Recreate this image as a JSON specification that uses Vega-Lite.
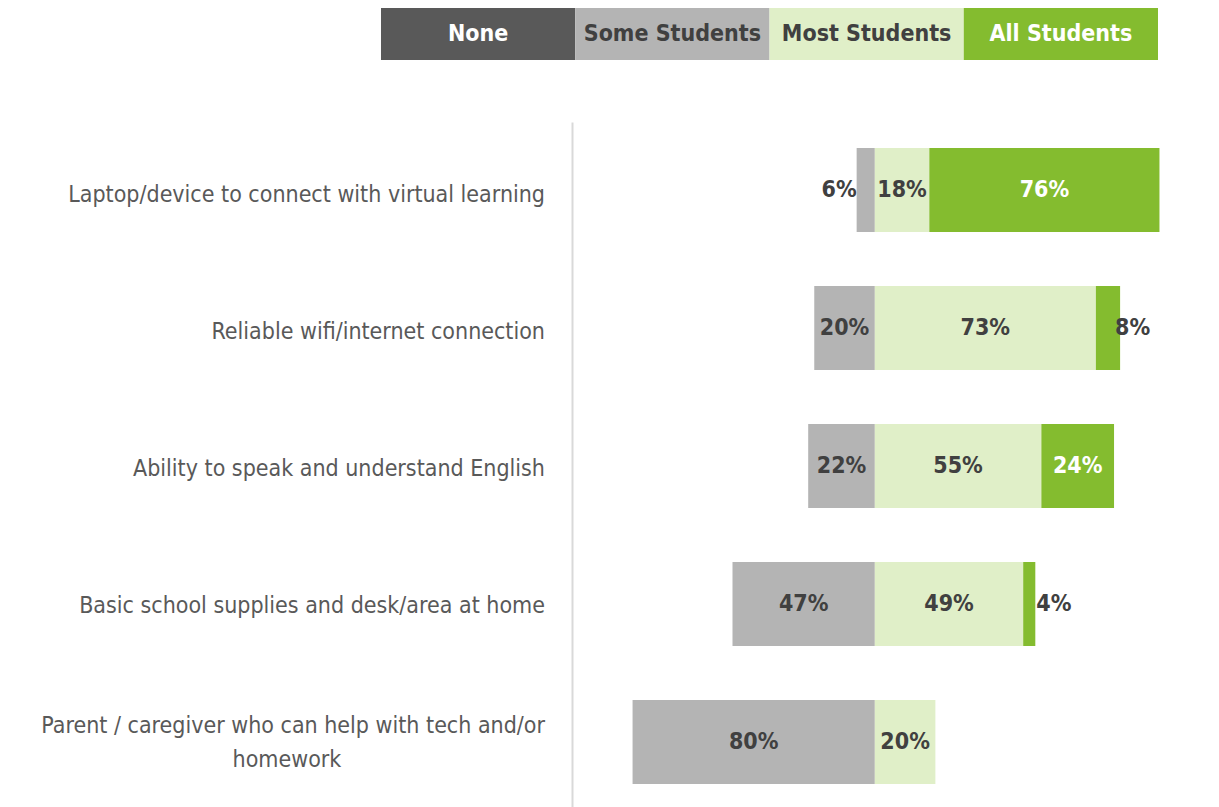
{
  "$schema": "https://vega.github.io/schema/vega-lite/v6.json",
  "padding": {"left": 0, "top": 8, "right": 0, "bottom": 0},
  "background": "white",
  "spacing": 62,
  "config": {"view": {"stroke": null}, "font": "DejaVu Sans Condensed, sans-serif"},
  "datasets": {
    "legend": [
      {"type": "None"},
      {"type": "Some Students"},
      {"type": "Most Students"},
      {"type": "All Students"}
    ],
    "survey": [
      {"question": "Laptop/device to connect with virtual learning", "type": "None", "value": 0},
      {"question": "Laptop/device to connect with virtual learning", "type": "Some Students", "value": 6},
      {"question": "Laptop/device to connect with virtual learning", "type": "Most Students", "value": 18},
      {"question": "Laptop/device to connect with virtual learning", "type": "All Students", "value": 76},
      {"question": "Reliable wifi/internet connection", "type": "None", "value": 0},
      {"question": "Reliable wifi/internet connection", "type": "Some Students", "value": 20},
      {"question": "Reliable wifi/internet connection", "type": "Most Students", "value": 73},
      {"question": "Reliable wifi/internet connection", "type": "All Students", "value": 8},
      {"question": "Ability to speak and understand English", "type": "None", "value": 0},
      {"question": "Ability to speak and understand English", "type": "Some Students", "value": 22},
      {"question": "Ability to speak and understand English", "type": "Most Students", "value": 55},
      {"question": "Ability to speak and understand English", "type": "All Students", "value": 24},
      {"question": "Basic school supplies and desk/area at home", "type": "None", "value": 0},
      {"question": "Basic school supplies and desk/area at home", "type": "Some Students", "value": 47},
      {"question": "Basic school supplies and desk/area at home", "type": "Most Students", "value": 49},
      {"question": "Basic school supplies and desk/area at home", "type": "All Students", "value": 4},
      {"question": "Parent / caregiver who can help with tech and/or homework", "type": "None", "value": 0},
      {"question": "Parent / caregiver who can help with tech and/or homework", "type": "Some Students", "value": 80},
      {"question": "Parent / caregiver who can help with tech and/or homework", "type": "Most Students", "value": 20},
      {"question": "Parent / caregiver who can help with tech and/or homework", "type": "All Students", "value": 0}
    ]
  },
  "vconcat": [
    {
      "width": 1158,
      "height": 52,
      "data": {"name": "legend"},
      "encoding": {
        "x": {
          "field": "type", "type": "nominal",
          "sort": ["None", "Some Students", "Most Students", "All Students"],
          "scale": {"paddingInner": 0, "paddingOuter": 0.9807, "align": 1},
          "axis": null
        }
      },
      "layer": [
        {
          "mark": {"type": "rect"},
          "encoding": {
            "color": {
              "field": "type", "type": "nominal",
              "scale": {"domain": ["None", "Some Students", "Most Students", "All Students"], "range": ["#595959", "#b4b4b4", "#e0efc8", "#84bc2f"]},
              "legend": null
            }
          }
        },
        {
          "mark": {"type": "text", "fontSize": 23, "fontWeight": "bold"},
          "encoding": {
            "text": {"field": "type"},
            "color": {"condition": {"test": "datum.type === 'None' || datum.type === 'All Students'", "value": "#ffffff"}, "value": "#404040"}
          }
        }
      ]
    },
    {
      "spacing": 27,
      "hconcat": [
        {
          "width": 545,
          "height": 685,
          "data": {"name": "survey"},
          "transform": [
            {"filter": "datum.type === 'None'"},
            {"calculate": "datum.question === 'Parent / caregiver who can help with tech and/or homework' ? ['Parent / caregiver who can help with tech and/or', 'homework\u00a0\u00a0\u00a0\u00a0\u00a0\u00a0\u00a0\u00a0\u00a0\u00a0\u00a0\u00a0\u00a0\u00a0\u00a0\u00a0\u00a0\u00a0\u00a0\u00a0\u00a0\u00a0\u00a0\u00a0\u00a0\u00a0\u00a0\u00a0\u00a0\u00a0\u00a0\u200b'] : datum.question", "as": "qlabel"}
          ],
          "encoding": {
            "y": {
              "field": "question", "type": "nominal",
              "sort": ["Laptop/device to connect with virtual learning", "Reliable wifi/internet connection", "Ability to speak and understand English", "Basic school supplies and desk/area at home", "Parent / caregiver who can help with tech and/or homework"],
              "scale": {"paddingInner": 0.3913, "paddingOuter": 0.1775, "align": 0.5306},
              "axis": null
            },
            "x": {"value": "width"}
          },
          "layer": [
            {
              "transform": [{"filter": "datum.question !== 'Parent / caregiver who can help with tech and/or homework'"}],
              "mark": {"type": "text", "align": "right", "fontSize": 23, "color": "#595959"},
              "encoding": {"text": {"field": "qlabel"}}
            },
            {
              "transform": [{"filter": "datum.question === 'Parent / caregiver who can help with tech and/or homework'"}],
              "mark": {"type": "text", "align": "right", "fontSize": 23, "color": "#595959", "lineHeight": 34, "dy": -17},
              "encoding": {"text": {"field": "qlabel"}}
            }
          ]
        },
        {
          "width": 645,
          "height": 685,
          "data": {"name": "survey"},
          "transform": [
            {"calculate": "datum.type === 'Some Students' ? -datum.value : datum.value", "as": "signed"},
            {"stack": "signed", "groupby": ["question"], "sort": [{"field": "type", "order": "descending"}], "as": ["s0", "s1"]},
            {"calculate": "(datum.s0 + datum.s1) / 2", "as": "mid"},
            {"calculate": "datum.value + '%'", "as": "label"}
          ],
          "encoding": {
            "y": {
              "field": "question", "type": "nominal",
              "sort": ["Laptop/device to connect with virtual learning", "Reliable wifi/internet connection", "Ability to speak and understand English", "Basic school supplies and desk/area at home", "Parent / caregiver who can help with tech and/or homework"],
              "scale": {"paddingInner": 0.3913, "paddingOuter": 0.1775, "align": 0.5306},
              "axis": {
                "title": null, "ticks": false, "labels": false, "domainColor": "#d9d9d9", "domainWidth": 2,
                "minExtent": 0, "maxExtent": 0
              }
            }
          },
          "layer": [
            {
              "transform": [{"filter": "datum.value > 0"}],
              "mark": {"type": "bar"},
              "encoding": {
                "x": {"field": "s0", "type": "quantitative", "scale": {"domain": [-100, 113], "nice": false, "zero": false}, "axis": null},
                "x2": {"field": "s1"},
                "color": {
                  "field": "type", "type": "nominal",
                  "scale": {"domain": ["None", "Some Students", "Most Students", "All Students"], "range": ["#595959", "#b4b4b4", "#e0efc8", "#84bc2f"]},
                  "legend": null
                }
              }
            },
            {
              "transform": [{"filter": "datum.value >= 10"}],
              "mark": {"type": "text", "fontSize": 23, "fontWeight": "bold"},
              "encoding": {
                "x": {"field": "mid", "type": "quantitative", "axis": null},
                "text": {"field": "label"},
                "color": {"condition": {"test": "datum.type === 'All Students'", "value": "#ffffff"}, "value": "#404040"}
              }
            },
            {
              "transform": [{"filter": "datum.value > 0 && datum.value < 10 && datum.type !== 'Some Students'"}],
              "mark": {"type": "text", "fontSize": 23, "fontWeight": "bold", "align": "left", "dx": 7, "color": "#404040"},
              "encoding": {
                "x": {"field": "mid", "type": "quantitative", "axis": null},
                "text": {"field": "label"}
              }
            },
            {
              "transform": [{"filter": "datum.value > 0 && datum.value < 10 && datum.type === 'Some Students'"}],
              "mark": {"type": "text", "fontSize": 23, "fontWeight": "bold", "align": "right", "dx": 0, "color": "#404040"},
              "encoding": {
                "x": {"field": "s1", "type": "quantitative", "axis": null},
                "text": {"field": "label"}
              }
            }
          ]
        }
      ]
    }
  ]
}
